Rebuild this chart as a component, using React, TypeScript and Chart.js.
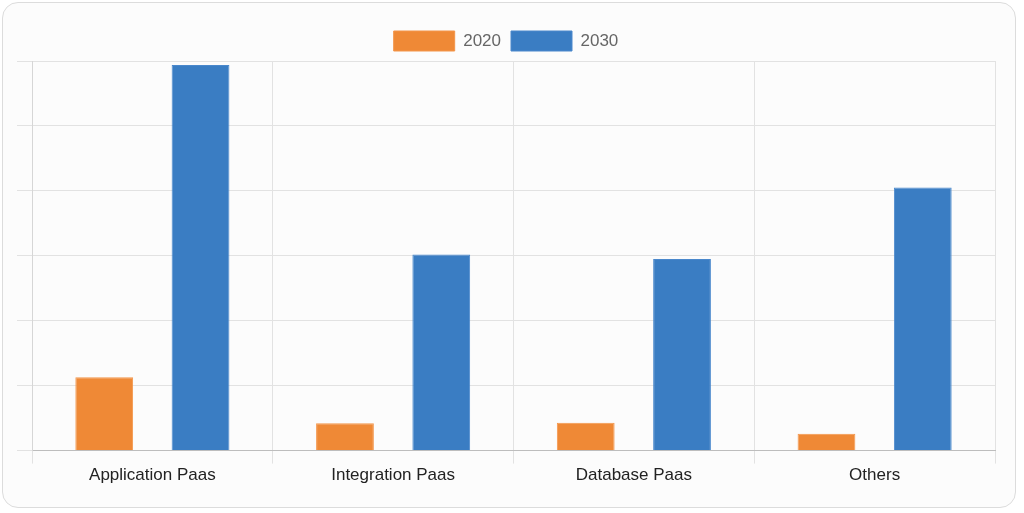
import React, { useEffect, useRef } from "react";
import { Chart, registerables } from "chart.js";

Chart.register(...registerables);

const categories = ["Application Paas", "Integration Paas", "Database Paas", "Others"];
const series2020 = [11.3, 4.2, 4.3, 2.6];
const series2030 = [59.4, 30.2, 29.5, 40.5];
const seriesLabels = ["2020", "2030"];

const FONT = "'Liberation Sans', Arial, Helvetica, sans-serif";

export default function App() {
  const ref = useRef<HTMLCanvasElement | null>(null);
  useEffect(() => {
    document.body.style.margin = "0";
    const ctx = ref.current!;
    const chart = new Chart(ctx, {
      type: "bar",
      data: {
        labels: categories,
        datasets: [
          {
            label: seriesLabels[0],
            data: series2020,
            backgroundColor: "#EF8936",
            borderColor: "#F3954A",
            borderWidth: 1,
            barPercentage: 0.6,
            categoryPercentage: 0.8,
          },
          {
            label: seriesLabels[1],
            data: series2030,
            backgroundColor: "#3A7DC3",
            borderColor: "#4A88CC",
            borderWidth: 1,
            barPercentage: 0.6,
            categoryPercentage: 0.8,
          },
        ],
      },
      options: {
        animation: false,
        responsive: false,
        maintainAspectRatio: false,
        layout: { padding: { left: 17, right: 29, top: 21, bottom: 25 } },
        font: { family: FONT },
        plugins: {
          legend: {
            position: "top",
            labels: {
              boxWidth: 61,
              boxHeight: 20,
              padding: 10,
              color: "#666",
              font: { size: 17, family: FONT },
            },
          },
          tooltip: { enabled: false },
        },
        scales: {
          x: {
            grid: { color: "#e2e2e2", tickLength: 13 },
            border: { color: "#bdbdbd" },
            ticks: {
              color: "#222",
              padding: 2,
              font: { size: 17, family: FONT },
            },
          },
          y: {
            min: 0,
            max: 60,
            grid: { color: "#e2e2e2", tickLength: 15 },
            border: { color: "#d6d6d6" },
            ticks: { display: false, stepSize: 10 },
          },
        },
      },
    });
    return () => chart.destroy();
  }, []);
  return (
    <div style={{ position: "relative", width: 1024, height: 513, background: "#fff" }}>
      <div
        style={{
          position: "absolute",
          left: 2,
          top: 2,
          width: 1014,
          height: 506,
          boxSizing: "border-box",
          border: "1.5px solid #dcdcdc",
          borderRadius: 16,
          background: "#fcfcfc",
        }}
      />
      <canvas
        ref={ref}
        width={1024}
        height={513}
        style={{ position: "absolute", left: 0, top: 0, width: 1024, height: 513 }}
      />
    </div>
  );
}
